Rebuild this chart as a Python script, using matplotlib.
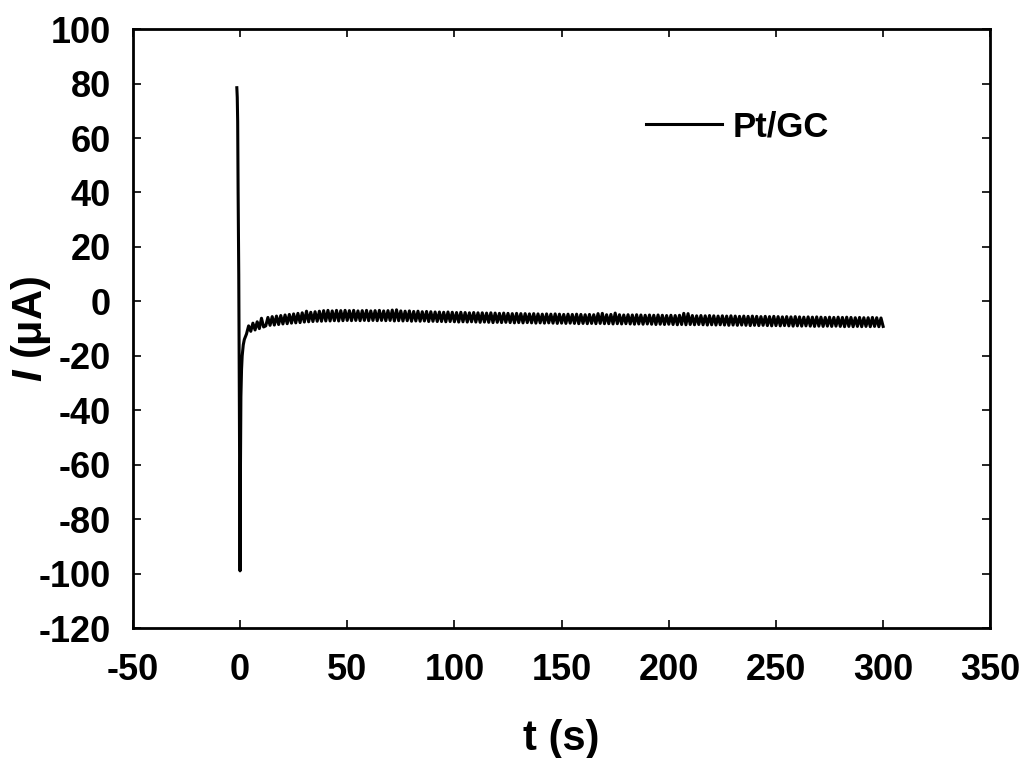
import numpy as np
import matplotlib.pyplot as plt

plt.rcParams['font.family'] = ['Liberation Sans', 'DejaVu Sans']
plt.rcParams['font.weight'] = 'bold'
plt.rcParams['axes.unicode_minus'] = False
plt.rcParams['mathtext.fontset'] = 'custom'
plt.rcParams['mathtext.it'] = 'Liberation Sans:italic:bold'
plt.rcParams['mathtext.rm'] = 'Liberation Sans:bold'

# spike + fast decay
t_start = [-1.5, -1.3, -1.1, -0.9, -0.6, -0.3, 0.0, 0.2, 0.4, 0.7, 1.0, 1.5,
           2, 3, 4, 5, 6, 7, 8, 9, 10, 11]
i_start = [78.5, 75, 66, 40, 10, -40, -99, -60, -35, -25, -20, -16,
           -14, -12, -9, -11, -8, -10.5, -7.5, -10, -6.2, -9.4]

# steady part, sampled every 1 s from 12 to 300 s (ripple band)
t_steady = np.arange(12, 301, 1)
i_steady = [
    -9.0, -5.9, -8.8, -5.6, -8.7, -5.4, -8.5, -5.2, -8.3, -5.0, -8.2, -4.8, -8.0, -4.6, -7.9, -4.4, -7.8, -4.2, -7.6, -3.6,
    -7.5, -4.0, -7.4, -3.8, -7.3, -3.6, -7.3, -3.4, -7.2, -3.3, -7.2, -3.5, -7.1, -3.3, -7.2, -3.4, -7.1, -3.3, -7.0, -3.4,
    -7.1, -3.3, -7.0, -3.5, -7.1, -3.4, -7.0, -3.3, -7.1, -3.5, -7.0, -3.4, -7.1, -3.3, -7.0, -3.5, -7.1, -3.4, -7.0, -3.2,
    -7.2, -3.1, -7.1, -3.5, -7.2, -3.6, -7.1, -3.5, -7.3, -3.7, -7.2, -3.6, -7.3, -3.8, -7.2, -3.7, -7.4, -3.8, -7.3, -3.9,
    -7.4, -3.9, -7.4, -4.0, -7.5, -3.9, -7.4, -4.0, -7.5, -4.1, -7.6, -4.0, -7.5, -4.1, -7.6, -4.2, -7.5, -4.1, -7.6, -4.2,
    -7.7, -4.2, -7.6, -4.3, -7.7, -4.2, -7.8, -4.3, -7.7, -4.4, -7.8, -4.3, -7.7, -4.4, -7.8, -4.5, -7.9, -4.4, -7.8, -4.5,
    -7.9, -4.5, -7.8, -4.6, -7.9, -4.5, -8.0, -4.6, -7.9, -4.7, -8.0, -4.6, -7.9, -4.7, -8.0, -4.6, -8.1, -4.7, -8.0, -4.8,
    -8.1, -4.7, -8.0, -4.8, -8.1, -4.7, -8.2, -4.8, -8.1, -4.9, -8.2, -4.8, -8.1, -4.9, -8.2, -4.5, -8.1, -4.4, -8.2, -4.9,
    -8.2, -4.8, -8.3, -4.3, -8.2, -4.9, -8.3, -5.0, -8.2, -4.9, -8.3, -5.0, -8.4, -4.9, -8.3, -5.0, -8.4, -5.1, -8.3, -5.0,
    -8.4, -5.1, -8.5, -5.0, -8.4, -5.1, -8.5, -5.2, -8.4, -5.1, -8.5, -5.2, -8.6, -5.1, -8.5, -4.4, -8.6, -4.5, -8.5, -5.2,
    -8.6, -5.3, -8.5, -5.2, -8.6, -5.3, -8.7, -5.2, -8.6, -5.3, -8.7, -5.4, -8.6, -5.3, -8.7, -5.4, -8.8, -5.3, -8.7, -5.4,
    -8.8, -5.5, -8.7, -5.4, -8.8, -5.5, -8.9, -5.4, -8.8, -5.5, -8.9, -5.6, -8.8, -5.5, -8.9, -5.6, -9.0, -5.5, -8.9, -5.6,
    -9.0, -5.7, -8.9, -5.6, -9.0, -5.7, -9.1, -5.6, -9.0, -5.7, -9.1, -5.8, -9.0, -5.7, -9.1, -5.8, -9.2, -5.7, -9.1, -5.8,
    -9.2, -5.9, -9.1, -5.8, -9.2, -5.9, -9.1, -5.8, -9.2, -5.9, -9.3, -5.8, -9.2, -5.9, -9.3, -6.0, -9.2, -5.9, -9.3, -6.0,
    -9.2, -6.0, -9.3, -5.9, -9.2, -6.0, -9.3, -6.1, -9.2,
]

t = np.concatenate([t_start, t_steady])
current = np.concatenate([i_start, i_steady])

x_ticks = [-50, 0, 50, 100, 150, 200, 250, 300, 350]
y_ticks = [-120, -100, -80, -60, -40, -20, 0, 20, 40, 60, 80, 100]

fig = plt.figure(figsize=(10.22, 7.58), dpi=100)
ax = fig.add_axes([0.130, 0.1715, 0.839, 0.790])

ax.plot(t, current, color='black', linewidth=2.2, label='Pt/GC')

ax.set_xlim(-50, 350)
ax.set_ylim(-120, 100)
ax.set_xticks(x_ticks)
ax.set_yticks(y_ticks)

ax.tick_params(direction='in', top=True, right=True, length=6, width=1.2,
               labelsize=26)
ax.tick_params(axis='x', pad=18)
ax.tick_params(axis='y', pad=16)
for s in ax.spines.values():
    s.set_linewidth(2.0)

ax.set_xlabel('t (s)', fontsize=30, fontweight='bold', labelpad=22)
ax.set_ylabel(r'$I$ (μA)', fontsize=30, fontweight='bold')
ax.yaxis.set_label_coords(-0.093, 0.5)

ax.legend(loc='upper right', bbox_to_anchor=(0.848, 0.917), frameon=False,
          fontsize=25, handlelength=2.2, handletextpad=0.3)

fig.savefig('out.png', dpi=100)
